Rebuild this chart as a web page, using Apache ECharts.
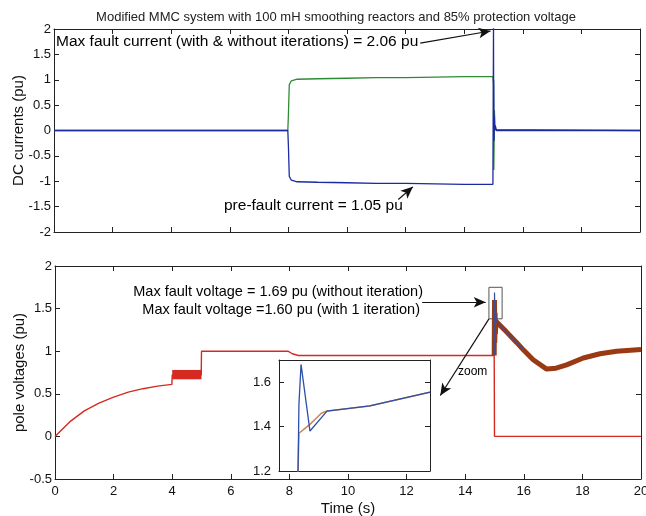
<!DOCTYPE html>
<html>
<head>
<meta charset="utf-8">
<script src="https://cdn.jsdelivr.net/npm/echarts@6/dist/echarts.min.js"></script>
<style>
html,body{margin:0;padding:0;background:#fff;}
#c{width:646px;height:516px;}
</style>
</head>
<body>
<div id="c"></div>
<script>
// ---- data (time in s, values in pu) ----
const titleText = 'Modified MMC system with 100 mH smoothing reactors and 85% protection voltage';

// top panel: DC currents
const tGreen = [0, 7.98, 8.0, 8.03, 8.1, 8.3, 9, 10, 11, 12, 13, 14, 14.98, 15.0, 15.01, 15.02, 15.03, 15.05, 15.1, 20];
const vGreen = [0, 0, 0.3, 0.9, 0.98, 1.01, 1.02, 1.03, 1.04, 1.04, 1.05, 1.06, 1.06, 0.9, -0.78, -0.3, 0.4, 0.02, 0, 0];
const tBlueI = [0, 7.98, 8.0, 8.03, 8.1, 8.3, 9, 10, 11, 12, 13, 14, 14.98, 15.0, 15.005, 15.01, 15.02, 15.03, 15.04, 15.06, 15.1, 20];
const vBlueI = [0, 0, -0.3, -0.9, -0.98, -1.01, -1.02, -1.03, -1.04, -1.04, -1.05, -1.06, -1.06, 2.06, 0.6, 1.0, -0.2, 0.3, 0.0, 0.1, 0, 0];

// bottom panel: pole voltages
const tRed = [0, 0.5, 1, 1.5, 2, 2.5, 3, 3.5, 3.99, 4.0, 4.99, 5.0, 6, 7, 7.95, 8.1, 8.3, 10, 12, 14, 14.99, 15.0, 20];
const vRed = [0, 0.17, 0.3, 0.39, 0.46, 0.52, 0.56, 0.59, 0.61, 0.72, 0.72, 1.0, 1.0, 1.0, 1.0, 0.97, 0.95, 0.95, 0.95, 0.95, 0.95, 0.0, 0.0];
const redBand = [4.0, 5.0, 0.67, 0.78]; // ripple band t0, t1, vmin, vmax
const tBrown = [14.99, 15.0, 15.01, 15.02, 15.03, 15.05, 15.4, 15.76, 16.0, 16.32, 16.78, 17.1, 17.46, 18.03, 18.6, 19.17, 20];
const vBrown = [0.95, 1.6, 1.1, 1.45, 1.2, 1.35, 1.23, 1.10, 1.01, 0.90, 0.79, 0.8, 0.84, 0.92, 0.97, 1.0, 1.02];
const tBlueV = [14.99, 15.0, 15.02, 15.04, 15.06, 15.4, 15.76, 16.0];
const vBlueV = [0.95, 1.69, 1.38, 1.47, 1.35, 1.23, 1.10, 1.01];

// inset (zoom window, relative units 0..100)
const tInsBlue = [12.0, 12.6, 13.2, 14.6, 20.5, 31.8, 60, 100];
const vInsBlue = [1.15, 1.2, 1.5, 1.68, 1.38, 1.47, 1.493, 1.555];
const tInsOrange = [12.0, 12.6, 13.2, 16, 20.5, 25, 28, 31.8, 60, 100];
const vInsOrange = [1.15, 1.2, 1.37, 1.385, 1.41, 1.44, 1.46, 1.47, 1.493, 1.555];

const zip = (t, v) => t.map((x, i) => [x, v[i]]);

const FONT = 'Liberation Sans';
const AX = '#222';
const txt = {color: '#111', fontFamily: FONT};

function xAx(grid, pos, min, max, interval, showLabel, extra) {
  return Object.assign({
    type: 'value', gridIndex: grid, position: pos, min: min, max: max, interval: interval,
    axisLine: {show: true, onZero: false, lineStyle: {color: AX, width: 1}},
    axisTick: {show: true, inside: true, length: 5, lineStyle: {color: AX}},
    axisLabel: {show: showLabel, fontSize: 13, color: '#111', fontFamily: FONT, margin: 6},
    splitLine: {show: false}, nameMoveOverlap: false
  }, extra || {});
}
function yAx(grid, pos, min, max, interval, showLabel, extra) {
  return Object.assign({
    type: 'value', gridIndex: grid, position: pos, min: min, max: max, interval: interval,
    axisLine: {show: true, onZero: false, lineStyle: {color: AX, width: 1}},
    axisTick: {show: true, inside: true, length: 5, lineStyle: {color: AX}},
    axisLabel: {show: showLabel, fontSize: 13, color: '#111', fontFamily: FONT, margin: 3},
    splitLine: {show: false}, nameMoveOverlap: false
  }, extra || {});
}

const arrow = (x1, y1, x2, y2) => [{coord: [x1, y1], symbol: 'none'}, {coord: [x2, y2], symbol: 'arrow', symbolSize: [8, 12]}];

const chart = echarts.init(document.getElementById('c'), null, {renderer: 'canvas'});
chart.setOption({
  animation: false,
  backgroundColor: '#fff',
  title: {text: titleText, left: 331, top: 6, textAlign: 'center',
    textStyle: {fontSize: 13, fontWeight: 'normal', color: '#222', fontFamily: FONT}},
  grid: [
    {left: 54, top: 29, width: 586, height: 203, outerBoundsMode: 'none', containLabel: false},
    {left: 55, top: 266, width: 586, height: 213, outerBoundsMode: 'none', containLabel: false},
    {left: 279, top: 360, width: 151, height: 111, show: true, backgroundColor: '#fff', borderWidth: 0, z: 5, outerBoundsMode: 'none', containLabel: false}
  ],
  xAxis: [
    xAx(0, 'bottom', 0, 20, 2, false),
    xAx(0, 'top', 0, 20, 2, false),
    xAx(1, 'bottom', 0, 20, 2, true, {name: 'Time (s)', nameLocation: 'middle', nameGap: 22,
      nameTextStyle: {fontSize: 15, color: '#111', fontFamily: FONT}}),
    xAx(1, 'top', 0, 20, 2, false),
    xAx(2, 'bottom', 0, 100, 20, false, {axisTick: {show: false}, z: 6}),
    xAx(2, 'top', 0, 100, 20, false, {axisTick: {show: false}, z: 6})
  ],
  yAxis: [
    yAx(0, 'left', -2, 2, 0.5, true, {name: 'DC currents (pu)', nameLocation: 'middle', nameGap: 28,
      nameTextStyle: {fontSize: 15, color: '#111', fontFamily: FONT}}),
    yAx(0, 'right', -2, 2, 0.5, false),
    yAx(1, 'left', -0.5, 2, 0.5, true, {name: 'pole voltages (pu)', nameLocation: 'middle', nameGap: 28,
      nameTextStyle: {fontSize: 15, color: '#111', fontFamily: FONT}}),
    yAx(1, 'right', -0.5, 2, 0.5, false),
    yAx(2, 'left', 1.2, 1.7, 0.2, true, {z: 6, axisLabel: {show: true, fontSize: 13, color: '#111', fontFamily: FONT, margin: 8, showMaxLabel: false}}),
    yAx(2, 'right', 1.2, 1.7, 0.2, false, {z: 6})
  ],
  series: [
    {type: 'line', name: 'green', xAxisIndex: 0, yAxisIndex: 0, data: zip(tGreen, vGreen), symbol: 'none',
      lineStyle: {color: '#2f8a35', width: 1.3},
      markLine: {silent: true, animation: false, label: {show: false}, lineStyle: {color: '#111', width: 1.2, type: 'solid'},
        data: [arrow(12.5, 1.72, 14.9, 1.96), arrow(11.75, -1.36, 12.25, -1.11)]}},
    {type: 'line', name: 'blueI', xAxisIndex: 0, yAxisIndex: 0, data: zip(tBlueI, vBlueI), symbol: 'none',
      lineStyle: {color: '#1c2aa0', width: 1.3}},
    {type: 'line', name: 'red', xAxisIndex: 2, yAxisIndex: 2, data: zip(tRed, vRed), symbol: 'none',
      lineStyle: {color: '#d42a22', width: 1.4},
      markArea: {silent: true, data: [
        [{coord: [redBand[0], redBand[2]], itemStyle: {color: '#d42a22', opacity: 1}}, {coord: [redBand[1], redBand[3]]}],
        [{coord: [14.81, 1.38], itemStyle: {color: 'rgba(0,0,0,0)', borderColor: '#555', borderWidth: 1}}, {coord: [15.26, 1.75]}]
      ]},
      markLine: {silent: true, animation: false, label: {show: false}, lineStyle: {color: '#111', width: 1.2, type: 'solid'},
        data: [arrow(12.53, 1.575, 14.7, 1.575), arrow(14.81, 1.38, 13.15, 0.48)]}},
    {type: 'line', name: 'brown', xAxisIndex: 2, yAxisIndex: 2, data: zip(tBrown, vBrown), symbol: 'none',
      lineStyle: {color: '#9a3a14', width: 5}},
    {type: 'line', name: 'blueV', xAxisIndex: 2, yAxisIndex: 2, data: zip(tBlueV, vBlueV), symbol: 'none',
      lineStyle: {color: '#3a4d9a', width: 1.2}},
    {type: 'line', name: 'insOrange', xAxisIndex: 4, yAxisIndex: 4, data: zip(tInsOrange, vInsOrange), symbol: 'none', z: 7,
      lineStyle: {color: '#c9865a', width: 1.5}},
    {type: 'line', name: 'insBlue', xAxisIndex: 4, yAxisIndex: 4, data: zip(tInsBlue, vInsBlue), symbol: 'none', z: 7,
      lineStyle: {color: '#2c4fa8', width: 1.3}}
  ],
  graphic: [
    {type: 'text', left: 56, top: 34, z: 10, style: Object.assign({text: 'Max fault current (with & without iterations) = 2.06 pu', fontSize: 15.5}, txt)},
    {type: 'text', left: 224, top: 198, z: 10, style: Object.assign({text: 'pre-fault current = 1.05 pu', fontSize: 15.5}, txt)},
    {type: 'text', right: 223, top: 284, z: 10, style: Object.assign({text: 'Max fault voltage = 1.69 pu (without iteration)', fontSize: 14.5, align: 'right'}, txt)},
    {type: 'text', right: 226, top: 302, z: 10, style: Object.assign({text: 'Max fault voltage =1.60 pu (with 1 iteration)', fontSize: 14.5, align: 'right'}, txt)},
    {type: 'text', left: 458, top: 366, z: 10, style: Object.assign({text: 'zoom', fontSize: 12}, txt)}
  ]
});
</script>
</body>
</html>
